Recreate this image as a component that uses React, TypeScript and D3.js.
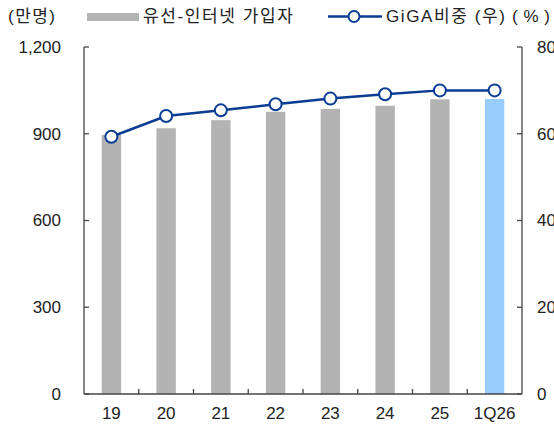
import * as React from 'react';
import * as d3 from 'd3';

const categories = ['19', '20', '21', '22', '23', '24', '25', '1Q26'];
const subscribers = [896, 919, 947, 976, 986, 997, 1019, 1020];
const gigaShare = [59.3, 64.1, 65.4, 66.8, 68.1, 69.1, 70.0, 70.0];
const leftTicks = [0, 300, 600, 900, 1200];
const rightTicks = [0, 20, 40, 60, 80];

const W = 554;
const H = 425;
const margin = { top: 47, right: 32, bottom: 31, left: 84 };
const FONT = '"Liberation Sans", "Noto Sans CJK KR", sans-serif';
const NAVY = '#0b3c93';
const GREY = '#b3b3b3';
const BLUE = '#99cbff';
const AXIS = '#444';

export default function App() {
  const innerW = W - margin.left - margin.right;
  const innerH = H - margin.top - margin.bottom;

  const x = d3.scaleBand<string>().domain(categories).range([0, innerW]).paddingInner(0.646).paddingOuter(0.323);
  const xb = d3.scaleBand<string>().domain(categories).range([0, innerW]);
  const yL = d3.scaleLinear().domain([0, 1200]).range([innerH, 0]);
  const yR = d3.scaleLinear().domain([0, 80]).range([innerH, 0]);

  const line = d3.line<number>()
    .x((_, i) => xb(categories[i])! + xb.bandwidth() / 2)
    .y(d => yR(d));

  return (
    <svg width={W} height={H} style={{ position: 'absolute', left: 0, top: 0 }} fontFamily={FONT}>
      {/* header */}
      <text x={8} y={22} fontSize={17} fill="#222" textLength={47} lengthAdjust="spacing">(만명)</text>
      <rect x={87} y={13} width={52} height={8} fill={GREY} />
      <text x={143} y={22} fontSize={17} fill="#222" textLength={150} lengthAdjust="spacing">유선-인터넷 가입자</text>
      <line x1={328} x2={382} y1={16.5} y2={16.5} stroke={NAVY} strokeWidth={2.5} />
      <circle cx={354} cy={16.5} r={5.5} fill="#fff" stroke={NAVY} strokeWidth={2} />
      <text x={386} y={22} fontSize={17} fill="#222" textLength={119} lengthAdjust="spacing">GiGA비중 (우)</text>
      <text x={512} y={22} fontSize={17} fill="#222" textLength={38} lengthAdjust="spacing">(%)</text>

      <g transform={`translate(${margin.left},${margin.top})`}>
        {/* bars */}
        {categories.map((c, i) => (
          <rect key={c} x={x(c)} y={yL(subscribers[i])} width={x.bandwidth()}
            height={innerH - yL(subscribers[i])} fill={i === categories.length - 1 ? BLUE : GREY} />
        ))}

        {/* axes */}
        <line x1={0} x2={0} y1={0} y2={innerH} stroke={AXIS} strokeWidth={1.3} />
        <line x1={innerW} x2={innerW} y1={0} y2={innerH} stroke={AXIS} strokeWidth={1.3} />
        <line x1={0} x2={innerW} y1={innerH} y2={innerH} stroke={AXIS} strokeWidth={1.3} />
        {leftTicks.map(t => (
          <g key={'l' + t}>
            <line x1={0} x2={5} y1={yL(t)} y2={yL(t)} stroke={AXIS} strokeWidth={1.3} />
            <text x={-23} y={yL(t)} dy="0.35em" textAnchor="end" fontSize={17} fill="#222">{d3.format(',')(t)}</text>
          </g>
        ))}
        {rightTicks.map(t => (
          <g key={'r' + t}>
            <line x1={innerW - 5} x2={innerW} y1={yR(t)} y2={yR(t)} stroke={AXIS} strokeWidth={1.3} />
            <text x={innerW + 15} y={yR(t)} dy="0.35em" fontSize={17} fill="#222">{t}</text>
          </g>
        ))}
        {categories.slice(1).map(c => (
          <line key={'t' + c} x1={xb(c)} x2={xb(c)} y1={innerH} y2={innerH - 5} stroke={AXIS} strokeWidth={1.3} />
        ))}
        {categories.map(c => (
          <text key={'x' + c} x={xb(c)! + xb.bandwidth() / 2} y={innerH + 19} dy="0.35em"
            textAnchor="middle" fontSize={17} fill="#222">{c}</text>
        ))}

        {/* line */}
        <path d={line(gigaShare)!} fill="none" stroke={NAVY} strokeWidth={2.5} />
        {gigaShare.map((v, i) => (
          <circle key={'c' + i} cx={xb(categories[i])! + xb.bandwidth() / 2} cy={yR(v)} r={6}
            fill="#fff" stroke={NAVY} strokeWidth={2} />
        ))}
      </g>
    </svg>
  );
}
